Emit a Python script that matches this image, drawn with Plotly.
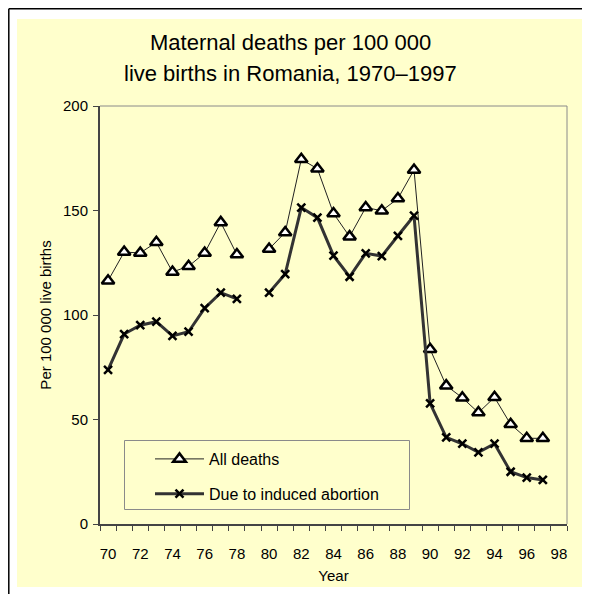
import plotly.graph_objects as go

years = list(range(70, 98))
all_deaths = [116.4, 130.1, 129.7, 134.8, 120.6, 123.3, 129.7, 144.3, 128.9, None,
              131.6, 139.5, 174.5, 170.0, 148.6, 137.5, 151.4, 149.9, 155.7, 169.4,
              83.6, 66.2, 60.4, 53.3, 60.6, 47.7, 41.0, 41.0]
abortion = [73.7, 90.9, 95.1, 96.8, 90.0, 92.0, 103.3, 110.7, 107.7, None,
            110.7, 119.6, 151.4, 146.6, 128.4, 118.3, 129.5, 128.2, 137.9, 147.5,
            57.7, 41.5, 38.4, 34.3, 38.4, 25.0, 22.2, 21.1]
x_tickvals = list(range(70, 99, 2))
x_ticktext = [str(v) for v in x_tickvals]
y_tickvals = [0, 50, 100, 150, 200]
title_lines = ["Maternal deaths per 100 000", "live births in Romania, 1970–1997"]

FONT = "Liberation Sans, Arial, sans-serif"
YELLOW = "#FFFFCC"

OFF = 8  # page body margin
W, H = 590 - OFF, 594 - OFF
# plot area in page pixels
PL, PR, PT, PB = 100, 567, 106, 524
L, R, T, B = PL - OFF, PR - OFF, PT - OFF, PB - OFF


def px(x):  # page x -> paper
    return (x - OFF - L) / (R - L)


def py(y):  # page y -> paper
    return (B - (y - OFF)) / (B - T)


fig = go.Figure()
fig.add_trace(go.Scatter(
    x=years, y=all_deaths, name="All deaths", mode="lines+markers",
    legendgroup="a", connectgaps=False,
    line=dict(color="#222222", width=1),
    marker=dict(symbol="triangle-up", size=11, color="white",
                line=dict(color="black", width=2.5)),
))
fig.add_trace(go.Scatter(
    x=years, y=abortion, name="Due to induced abortion", mode="lines+markers",
    legendgroup="b", connectgaps=False,
    line=dict(color="#333333", width=3),
    marker=dict(symbol="x-thin", size=8, color="black",
                line=dict(color="black", width=2.5)),
))

shapes = [
    dict(type="rect", xref="paper", yref="paper", layer="below",
         x0=px(17), x1=px(585), y0=py(587), y1=py(19),
         fillcolor=YELLOW, line=dict(width=0)),
    dict(type="line", xref="paper", yref="paper", x0=px(8.8), x1=px(8.8),
         y0=py(600), y1=py(8.8), line=dict(color="black", width=1.5)),
    dict(type="line", xref="paper", yref="paper", x0=px(8.8), x1=px(600),
         y0=py(8.8), y1=py(8.8), line=dict(color="black", width=1.5)),
    dict(type="line", xref="paper", yref="paper", x0=0, x1=1, y0=1, y1=1,
         line=dict(color="#8a8a8a", width=1)),
    dict(type="line", xref="paper", yref="paper", x0=1, x1=1, y0=0, y1=1,
         line=dict(color="#8a8a8a", width=1)),
    dict(type="rect", xref="paper", yref="paper",
         x0=px(124.5), x1=px(409.5), y0=py(509.5), y1=py(440.5),
         line=dict(color="#8a8a8a", width=1), fillcolor="rgba(0,0,0,0)"),
]

annotations = [
    dict(text=title_lines[0], xref="paper", yref="paper", x=px(290.5), y=py(42),
         xanchor="center", yanchor="middle", showarrow=False,
         font=dict(size=22, family=FONT, color="black")),
    dict(text=title_lines[1], xref="paper", yref="paper", x=px(290.5), y=py(73),
         xanchor="center", yanchor="middle", showarrow=False,
         font=dict(size=22, family=FONT, color="black")),
]

fig.update_layout(
    width=W, height=H,
    margin=dict(l=L, r=W - R, t=T, b=H - B, autoexpand=False),
    paper_bgcolor="white", plot_bgcolor=YELLOW,
    font=dict(family=FONT, color="black", size=15),
    showlegend=True,
    legend=dict(x=px(150), y=py(442), xanchor="left", yanchor="top",
                bgcolor="rgba(0,0,0,0)", borderwidth=0,
                font=dict(size=16, family=FONT, color="black"),
                traceorder="grouped", tracegroupgap=11, itemwidth=49),
    modebar=dict(bgcolor="rgba(0,0,0,0)", color="rgba(0,0,0,0)",
                 activecolor="rgba(0,0,0,0)"),
    shapes=shapes,
    annotations=annotations,
)

fig.update_xaxes(
    range=[69.5, 98.5], tickmode="array", tickvals=x_tickvals, ticktext=x_ticktext,
    ticks="", showgrid=False, zeroline=False,
    showline=True, linecolor="#444444", linewidth=2,
    tickfont=dict(size=15, family=FONT, color="black"),
    ticklabelstandoff=15,
    minor=dict(tickmode="linear", tick0=69.5, dtick=1, ticks="outside",
               ticklen=5, tickwidth=1, tickcolor="#444444", showgrid=False),
    title=dict(text="Year", font=dict(size=15, family=FONT, color="black"), standoff=9),
)
fig.update_yaxes(
    range=[0, 200], tickmode="array", tickvals=y_tickvals,
    ticks="outside", ticklen=5, tickwidth=1, tickcolor="#444444",
    showgrid=False, zeroline=False,
    showline=True, linecolor="#444444", linewidth=2,
    tickfont=dict(size=15, family=FONT, color="black"),
    ticklabelstandoff=2,
    title=dict(text="Per 100 000 live births",
               font=dict(size=15, family=FONT, color="black"), standoff=8),
)

fig.write_html("out.html")
